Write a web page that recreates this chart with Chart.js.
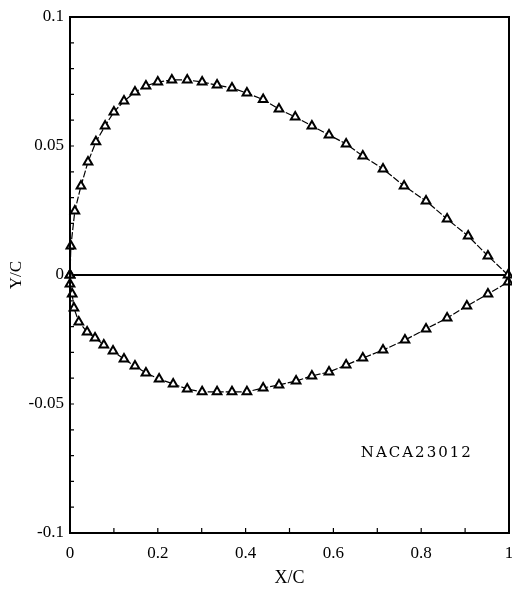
<!DOCTYPE html>
<html>
<head>
<meta charset="utf-8">
<script src="https://cdn.jsdelivr.net/npm/chart.js@4.4.1/dist/chart.umd.min.js"></script>
<style>
  html, body { margin: 0; padding: 0; background: #fff; }
  #wrap { width: 512px; height: 611px; }
</style>
</head>
<body>
<div id="wrap"><canvas id="chart"></canvas></div>
<script>
// upper surface
const upperX = [0.000, 0.002, 0.011, 0.025, 0.041, 0.059, 0.080, 0.100, 0.123, 0.148, 0.173, 0.200, 0.232, 0.267,
    0.301, 0.335, 0.369, 0.403, 0.440, 0.476, 0.513, 0.551, 0.590, 0.629, 0.667, 0.713, 0.761, 0.811, 0.859,
    0.907, 0.952, 0.998];
const upperY = [0.0000, 0.0112, 0.0248, 0.0345, 0.0438, 0.0516, 0.0578, 0.0632, 0.0674, 0.0709, 0.0733, 0.0748,
    0.0756, 0.0756, 0.0748, 0.0736, 0.0725, 0.0705, 0.0680, 0.0643, 0.0612, 0.0578, 0.0543, 0.0508, 0.0461,
    0.0411, 0.0345, 0.0287, 0.0217, 0.0151, 0.0074, 0.0000];

// lower surface
const lowerX = [0.000, 0.000, 0.005, 0.009, 0.020, 0.039, 0.057, 0.077, 0.098, 0.123, 0.148, 0.173, 0.203, 0.235,
    0.267, 0.301, 0.335, 0.369, 0.403, 0.440, 0.476, 0.515, 0.551, 0.590, 0.629, 0.667, 0.713, 0.763, 0.811,
    0.859, 0.904, 0.952, 0.998];
const lowerY = [0.0000, -0.0035, -0.0074, -0.0128, -0.0182, -0.0221, -0.0244, -0.0271, -0.0295, -0.0326, -0.0353,
    -0.0380, -0.0403, -0.0422, -0.0442, -0.0453, -0.0453, -0.0453, -0.0453, -0.0438, -0.0426, -0.0411, -0.0391,
    -0.0376, -0.0349, -0.0322, -0.0291, -0.0252, -0.0209, -0.0167, -0.0120, -0.0074, -0.0027];

const xTickLabels = ['0', '0.2', '0.4', '0.6', '0.8', '1'];
const yTickLabels = ['-0.1', '-0.05', '0', '0.05', '0.1'];

const serif = '"Liberation Serif", "DejaVu Serif", serif';

function pts(xs, ys) {
    return xs.map((x, i) => ({ x: x, y: ys[i] }));
}

function surface(label, xs, ys) {
    return {
        label: label,
        data: pts(xs, ys),
        showLine: true,
        borderColor: '#000',
        borderWidth: 1.2,
        borderDash: [7, 2],
        pointStyle: 'triangle',
        pointRadius: 5,
        pointBorderWidth: 2,
        pointBackgroundColor: '#fff',
        pointBorderColor: '#000',
        tension: 0,
        clip: 8
    };
}

// frame, inner ticks and the airfoil name
const frame = {
    id: 'frame',
    afterDatasetsDraw(chart) {
        const c = chart.ctx, a = chart.chartArea;
        const xs = chart.scales.x, ys = chart.scales.y;
        c.save();
        c.strokeStyle = '#000';
        c.lineWidth = 2;
        c.strokeRect(a.left, a.top, a.right - a.left, a.bottom - a.top);
        c.lineWidth = 1.2;
        c.beginPath();
        for (let v = -0.09; v < 0.095; v += 0.01) {
            const y = ys.getPixelForValue(v);
            c.moveTo(a.left, y);
            c.lineTo(a.left + 4, y);
        }
        for (let v = 0.1; v < 0.95; v += 0.1) {
            const x = xs.getPixelForValue(v);
            c.moveTo(x, a.bottom);
            c.lineTo(x, a.bottom - 5);
        }
        c.stroke();
        c.fillStyle = '#000';
        c.font = '15px "DejaVu Serif", serif';
        c.letterSpacing = '2px';
        c.textAlign = 'center';
        c.textBaseline = 'middle';
        c.fillText('NACA23012', xs.getPixelForValue(0.79), ys.getPixelForValue(-0.069));
        c.restore();
    }
};

new Chart(document.getElementById('chart'), {
    type: 'scatter',
    data: {
        datasets: [surface('upper', upperX, upperY), surface('lower', lowerX, lowerY)]
    },
    options: {
        responsive: true,
        maintainAspectRatio: false,
        animation: false,
        layout: { autoPadding: false, padding: { top: 17, right: 3, left: 0, bottom: 0 } },
        plugins: { legend: { display: false }, tooltip: { enabled: false } },
        scales: {
            x: {
                type: 'linear',
                min: 0,
                max: 1,
                afterBuildTicks: s => { s.ticks = xTickLabels.map(t => ({ value: parseFloat(t) })); },
                ticks: {
                    color: '#000',
                    font: { family: serif, size: 17 },
                    padding: 0,
                    maxRotation: 0,
                    callback: (v, i) => xTickLabels[i]
                },
                grid: { display: true, drawOnChartArea: false, tickLength: 10, tickColor: 'rgba(0,0,0,0)' },
                border: { color: '#000', width: 2 },
                title: {
                    display: true,
                    text: 'X/C',
                    color: '#000',
                    font: { family: serif, size: 18 },
                    padding: { top: 6, bottom: 22 }
                },
                afterFit: s => { s.height = 78; s.paddingLeft = 0; s.paddingRight = 0; }
            },
            y: {
                type: 'linear',
                min: -0.1,
                max: 0.1,
                afterBuildTicks: s => { s.ticks = yTickLabels.map(t => ({ value: parseFloat(t) })); },
                ticks: {
                    color: '#000',
                    font: { family: serif, size: 17 },
                    padding: 6,
                    callback: (v, i) => yTickLabels[i]
                },
                grid: {
                    drawTicks: false,
                    color: ctx => ctx.tick && ctx.tick.value === 0 ? '#000' : 'rgba(0,0,0,0)',
                    lineWidth: 2
                },
                border: { color: '#000', width: 2 },
                title: {
                    display: true,
                    text: 'Y/C',
                    color: '#000',
                    font: { family: serif, size: 17 },
                    padding: { top: 6, bottom: 0 }
                },
                afterFit: s => { s.width = 70; s.paddingTop = 0; s.paddingBottom = 0; }
            }
        }
    },
    plugins: [frame]
});
</script>
</body>
</html>
